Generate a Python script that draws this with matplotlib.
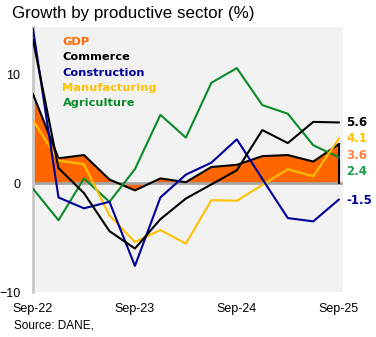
import matplotlib
matplotlib.use("Agg")
import matplotlib.pyplot as plt

# quarterly data, Sep-22 .. Sep-25
quarters = list(range(13))
tick_pos = [0, 4, 8, 12]
tick_labels = ["Sep-22", "Sep-23", "Sep-24", "Sep-25"]

gdp = [8.2, 2.3, 2.6, 0.35, -0.65, 0.45, 0.1, 1.5, 1.7, 2.5, 2.6, 2.0, 3.6]
commerce = [13.2, 1.4, -0.9, -4.4, -6.0, -3.3, -1.4, -0.1, 1.2, 4.9, 3.7, 5.65, 5.6]
construction = [14.2, -1.3, -2.3, -1.7, -7.6, -1.3, 0.8, 1.9, 4.05, 0.4, -3.2, -3.5, -1.5]
manufacturing = [5.8, 2.1, 1.75, -2.95, -5.4, -4.3, -5.55, -1.55, -1.6, -0.15, 1.3, 0.65, 4.1]
agriculture = [-0.5, -3.4, 0.45, -1.7, 1.3, 6.3, 4.2, 9.25, 10.6, 7.2, 6.4, 3.5, 2.4]

names = ["GDP", "Commerce", "Construction", "Manufacturing", "Agriculture"]
colors = {"GDP": "#FF6600", "Commerce": "#000000", "Construction": "#000099",
          "Manufacturing": "#FFC000", "Agriculture": "#0A8A28"}

fig = plt.figure(figsize=(3.76, 3.37), dpi=100)
ax = fig.add_axes([0.0878, 0.1335, 0.824, 0.787])
ax.set_facecolor("#F2F2F2")

ax.fill_between(quarters, 0, gdp, color=colors["GDP"], lw=0, zorder=1)
ax.axhline(0, color="#A6A6A6", lw=2, zorder=2)
ax.plot(quarters, gdp, color="black", lw=1.5, zorder=3)
ax.plot([12, 12], [0, gdp[-1]], color="black", lw=1.5, zorder=3)

ax.plot(quarters, agriculture, color=colors["Agriculture"], lw=1.5, zorder=4)
ax.plot(quarters, manufacturing, color=colors["Manufacturing"], lw=1.5, zorder=4)
ax.plot(quarters, construction, color=colors["Construction"], lw=1.5, zorder=5)
ax.plot(quarters, commerce, color="black", lw=1.5, zorder=5)

ax.set_xlim(0, 12.16)
ax.set_ylim(-10, 14.4)
ax.set_yticks([-10, 0, 10])
ax.set_xticks(tick_pos)
ax.set_xticklabels(tick_labels)
ax.tick_params(length=0, labelsize=9)
ax.tick_params(axis="x", pad=8)
ax.tick_params(axis="y", pad=9)
for lab in ax.get_xticklabels() + ax.get_yticklabels():
    lab.set_family("Liberation Sans")
for s in ["top", "right", "bottom"]:
    ax.spines[s].set_visible(False)
ax.spines["left"].set_color("#C8C8C8")
ax.spines["left"].set_linewidth(2)

# legend as coloured text
for i, n in enumerate(names):
    ax.text(0.095, 0.942 - i * 0.0575, n, transform=ax.transAxes, color=colors[n],
            fontsize=8.2, fontweight="bold", va="center", ha="left")

# end labels (values at last quarter, nudged to avoid overlaps)
end_labels = [("5.6", commerce[-1], 0.0, "#000000"),
              ("4.1", manufacturing[-1], 0.0, "#FFC000"),
              ("3.6", gdp[-1], -1.0, "#FF7F3F"),
              ("2.4", agriculture[-1], -1.3, "#1BA04A"),
              ("-1.5", construction[-1], -0.1, "#000099")]
for txt, v, dy, c in end_labels:
    ax.text(12.3, v + dy, txt, color=c, fontsize=8.5, fontweight="bold",
            va="center", ha="left", clip_on=False)

fig.text(0.032, 0.96, "Growth by productive sector (%)", fontsize=12.2,
         family="Liberation Sans", va="center", ha="left")
fig.text(0.037, 0.033, "Source: DANE,", fontsize=8.5, family="Liberation Sans",
         va="center", ha="left")

fig.savefig("out.png", dpi=100)
